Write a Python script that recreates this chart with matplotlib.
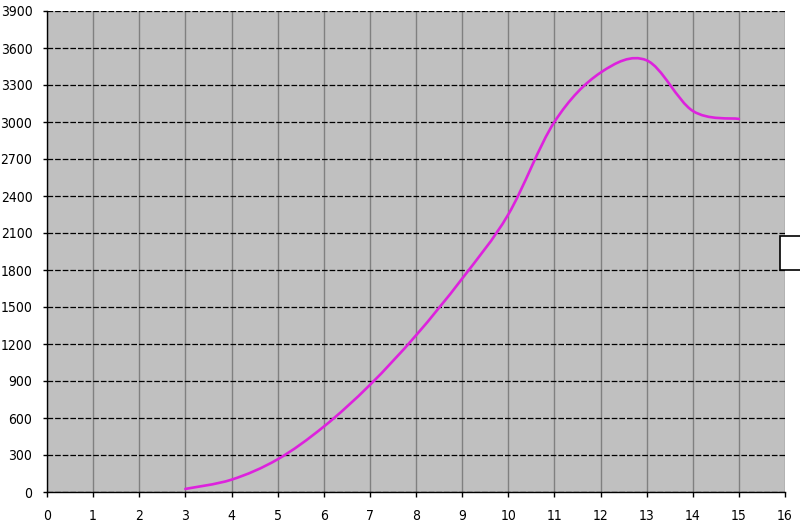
import matplotlib
matplotlib.use("Agg")
import matplotlib.pyplot as plt
from matplotlib.path import Path
from matplotlib.patches import PathPatch, Rectangle

# values (smoothed line through integer points)
x_vals = [3, 4, 5, 6, 7, 8, 9, 10, 11, 12, 13, 14, 15]
y_vals = [25, 100, 265, 530, 868, 1270, 1730, 2250, 3000, 3400, 3500, 3090, 3025]
x_ticks = list(range(0, 17))
y_ticks = list(range(0, 3901, 300))

plt.rcParams['font.family'] = ['DejaVu Sans']
plt.rcParams['font.stretch'] = 'condensed'

fig = plt.figure(figsize=(8.0, 5.31), dpi=100)
ax = fig.add_axes([47 / 800, 39 / 531, 738 / 800, 481 / 531])
ax.set_facecolor('#C0C0C0')


def smooth_path(xs, ys):
    # Excel-style smoothed line: Catmull-Rom segments as cubic Beziers
    pts = list(zip(xs, ys))
    verts = [pts[0]]
    codes = [Path.MOVETO]
    n = len(pts)
    for i in range(n - 1):
        p0 = pts[i - 1] if i > 0 else pts[i]
        p1 = pts[i]
        p2 = pts[i + 1]
        p3 = pts[i + 2] if i + 2 < n else pts[i + 1]
        c1 = (p1[0] + (p2[0] - p0[0]) / 6, p1[1] + (p2[1] - p0[1]) / 6)
        c2 = (p2[0] - (p3[0] - p1[0]) / 6, p2[1] - (p3[1] - p1[1]) / 6)
        verts += [c1, c2, p2]
        codes += [Path.CURVE4] * 3
    return Path(verts, codes)


ax.add_patch(PathPatch(smooth_path(x_vals, y_vals), facecolor='none',
                       edgecolor='#DD22DD', lw=1.9, zorder=3, capstyle='round'))

ax.set_xlim(0, 16)
ax.set_ylim(0, 3900)
ax.set_xticks(x_ticks)
ax.set_yticks(y_ticks)

ax.xaxis.grid(True, color='#808080', lw=1.0, ls='-')
ax.yaxis.grid(True, color='black', lw=0.9, ls=(0, (4.5, 1.6)))
ax.set_axisbelow(True)

for side in ('top', 'right'):
    ax.spines[side].set_visible(False)
for side in ('left', 'bottom'):
    ax.spines[side].set_color('black')
    ax.spines[side].set_linewidth(1.0)

ax.tick_params(axis='x', direction='out', length=3.6, width=1, pad=9, labelsize=10)
ax.tick_params(axis='y', direction='out', length=3, width=1, pad=7.5, labelsize=10)

# clipped legend box at the right edge
fig.patches.append(Rectangle((780 / 800, (531 - 270) / 531), 0.05, 34 / 531,
                             transform=fig.transFigure, facecolor='white',
                             edgecolor='black', lw=1.2, zorder=5))

fig.savefig('out.png', dpi=100)
